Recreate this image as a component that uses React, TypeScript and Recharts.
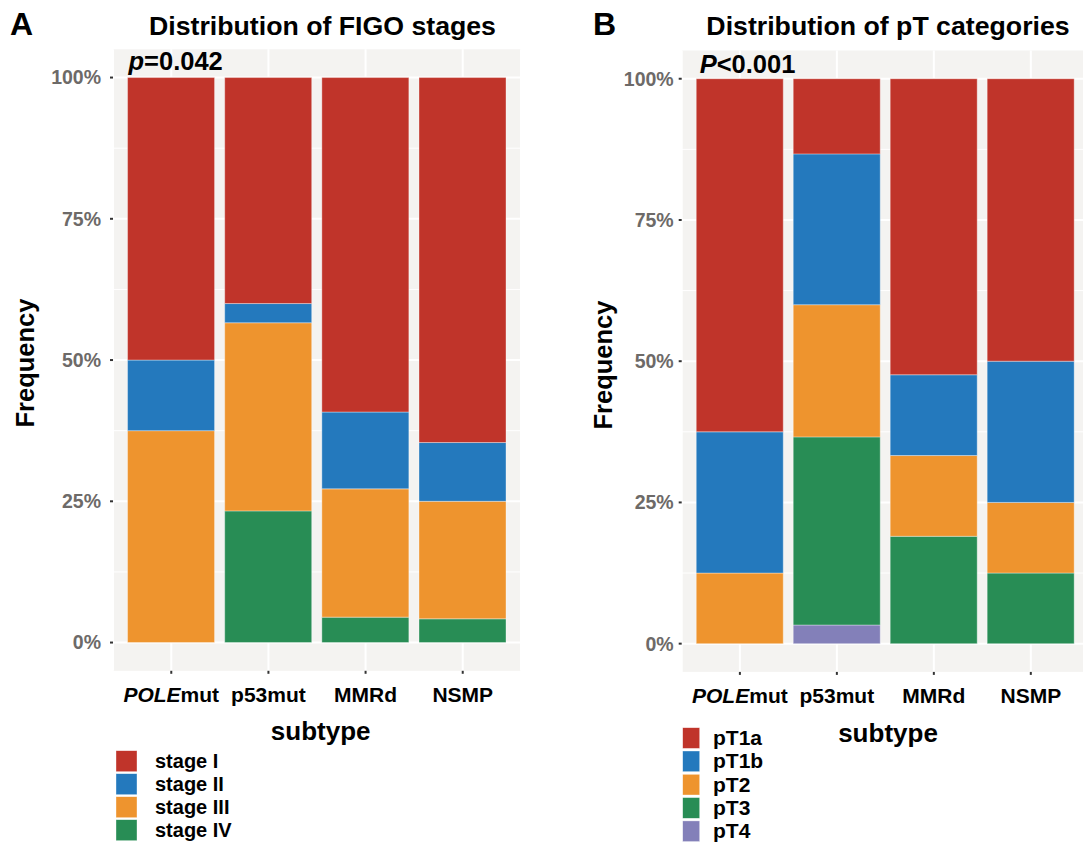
import React from 'react';
import { BarChart, Bar, XAxis, YAxis, CartesianGrid } from 'recharts';

const subtypes = ['POLEmut', 'p53mut', 'MMRd', 'NSMP'];

// panel A: FIGO stage shares (%) per subtype
const figoStages = ['stage I', 'stage II', 'stage III', 'stage IV'];
const stageI = [50, 40, 59.2, 64.6];
const stageII = [12.5, 3.4, 13.6, 10.4];
const stageIII = [37.5, 33.3, 22.7, 20.8];
const stageIV = [0, 23.3, 4.5, 4.2];
const stageColors = ['#C0342A', '#2479BD', '#EE942E', '#288D55'];

// panel B: pT category shares (%) per subtype
const ptCategories = ['pT1a', 'pT1b', 'pT2', 'pT3', 'pT4'];
const pT1a = [62.5, 13.3, 52.4, 50];
const pT1b = [25, 26.7, 14.3, 25];
const pT2 = [12.5, 23.4, 14.3, 12.5];
const pT3 = [0, 33.3, 19, 12.5];
const pT4 = [0, 3.3, 0, 0];
const ptColors = ['#C0342A', '#2479BD', '#EE942E', '#288D55', '#8380B9'];

const yTicks = [0, 25, 50, 75, 100];
const yMinor = [12.5, 37.5, 62.5, 87.5];

const FONT = '"Liberation Sans", Arial, Helvetica, sans-serif';
const PANEL_BG = '#f4f3f1';

function buildRows(keys: string[], series: number[][]) {
  return subtypes.map((s, i) => {
    const row: Record<string, string | number> = { subtype: s };
    keys.forEach((k, j) => { row[k] = series[j][i]; });
    return row;
  });
}

const figoRows = buildRows(figoStages, [stageI, stageII, stageIII, stageIV]);
const ptRows = buildRows(ptCategories, [pT1a, pT1b, pT2, pT3, pT4]);

function SubtypeTick({ x, y, payload }: any) {
  const v = String(payload.value);
  return (
    <text x={x} y={y} dy="0.71em" textAnchor="middle" fontSize={21} fontWeight="bold" fill="#000" fontFamily={FONT}>
      {v === 'POLEmut' ? (
        <>
          <tspan fontStyle="italic">POLE</tspan>
          <tspan>mut</tspan>
        </>
      ) : v}
    </text>
  );
}

interface PanelProps {
  rows: Record<string, string | number>[];
  keys: string[];
  colors: string[];
  left: number;
  yAxisWidth: number;
  tickMargin: number;
  margin: { top: number; right: number; bottom: number; left: number };
}

function StackedPanel({ rows, keys, colors, left, yAxisWidth, tickMargin, margin }: PanelProps) {
  // stack bottom-up: last category sits on the baseline
  const order = keys.map((k, i) => ({ k, c: colors[i] })).reverse();
  return (
    <div style={{ position: 'absolute', left, top: 0 }}>
      <BarChart width={540} height={760} data={rows} margin={margin} barCategoryGap="5%">
        <CartesianGrid fill={PANEL_BG} stroke="#ffffff" strokeWidth={2} horizontalValues={yTicks} />
        <CartesianGrid stroke="#ffffff" strokeWidth={1} vertical={false} horizontalValues={yMinor} />
        <XAxis
          dataKey="subtype"
          height={40}
          padding={{ left: 9.7, right: 9.7 }}
          axisLine={false}
          tickSize={3}
          tickMargin={13}
          tickLine={{ stroke: '#333', strokeWidth: 2 }}
          tick={<SubtypeTick />}
          interval={0}
        />
        <YAxis
          width={yAxisWidth}
          domain={[-5, 105]}
          allowDataOverflow
          ticks={yTicks}
          tickFormatter={(v: number) => `${v}%`}
          axisLine={false}
          tickSize={3}
          tickMargin={tickMargin}
          tickLine={{ stroke: '#333', strokeWidth: 2 }}
          tick={{ fill: '#6d6a68', fontSize: 19.5, fontWeight: 'bold', fontFamily: FONT }}
        />
        {order.map(({ k, c }) => (
          <Bar
            key={k}
            dataKey={k}
            stackId="a"
            fill={c}
            stroke="#ffffff"
            strokeWidth={0.6}
            strokeOpacity={0.6}
            isAnimationActive={false}
          />
        ))}
      </BarChart>
    </div>
  );
}

function LegendBox({ keys, colors, x, top, step, w, h, textX, fontSize }: any) {
  return (
    <g>
      {keys.map((k: string, i: number) => (
        <g key={k}>
          <rect x={x} y={top + i * step} width={w} height={h} fill={colors[i]} stroke="#ffffff" strokeWidth={0.6} strokeOpacity={0.6} />
          <text x={textX} y={top + i * step + 17.4} fontSize={fontSize} fontWeight="bold" fill="#000">{k}</text>
        </g>
      ))}
    </g>
  );
}

export default function App() {
  return (
    <div style={{ position: 'absolute', left: 0, top: 0, width: 1083, height: 844, overflow: 'hidden', background: '#fff', fontFamily: FONT }}>
      <StackedPanel
        rows={figoRows}
        keys={figoStages}
        colors={stageColors}
        left={0}
        yAxisWidth={113}
        tickMargin={9}
        margin={{ top: 49.3, right: 19, bottom: 49.2, left: 0 }}
      />
      <StackedPanel
        rows={ptRows}
        keys={ptCategories}
        colors={ptColors}
        left={560}
        yAxisWidth={121.7}
        tickMargin={5}
        margin={{ top: 50.5, right: 11, bottom: 48.1, left: 0 }}
      />
      <svg width={1083} height={844} style={{ position: 'absolute', left: 0, top: 0, pointerEvents: 'none' }} fontFamily={FONT}>
        {/* panel A */}
        <text x={10} y={35} fontSize={32} fontWeight="bold" fill="#000">A</text>
        <text x={322.5} y={35} fontSize={26.7} fontWeight="bold" textAnchor="middle" fill="#000">Distribution of FIGO stages</text>
        <text x={128.5} y={70} fontSize={25.5} fontWeight="bold" fill="#000">
          <tspan fontStyle="italic">p</tspan>=0.042
        </text>
        <text x={33.5} y={363} fontSize={25.5} fontWeight="bold" textAnchor="middle" transform="rotate(-90 33.5 363)" fill="#000">Frequency</text>
        <text x={320.7} y={740} fontSize={26} fontWeight="bold" textAnchor="middle" fill="#000">subtype</text>
        <LegendBox keys={figoStages} colors={stageColors} x={116} top={750.7} step={23} w={21} h={21} textX={155} fontSize={20} />

        {/* panel B */}
        <text x={593} y={35} fontSize={32} fontWeight="bold" fill="#000">B</text>
        <text x={888} y={35} fontSize={26.7} fontWeight="bold" textAnchor="middle" fill="#000">Distribution of pT categories</text>
        <text x={699.7} y={72.5} fontSize={25.5} fontWeight="bold" fill="#000">
          <tspan fontStyle="italic">P</tspan>&lt;0.001
        </text>
        <text x={611.7} y={365} fontSize={25.5} fontWeight="bold" textAnchor="middle" transform="rotate(-90 611.7 365)" fill="#000">Frequency</text>
        <text x={888} y={741.7} fontSize={26} fontWeight="bold" textAnchor="middle" fill="#000">subtype</text>
        <LegendBox keys={ptCategories} colors={ptColors} x={682.7} top={727.7} step={23.3} w={17} h={20.7} textX={713} fontSize={21} />
      </svg>
    </div>
  );
}
